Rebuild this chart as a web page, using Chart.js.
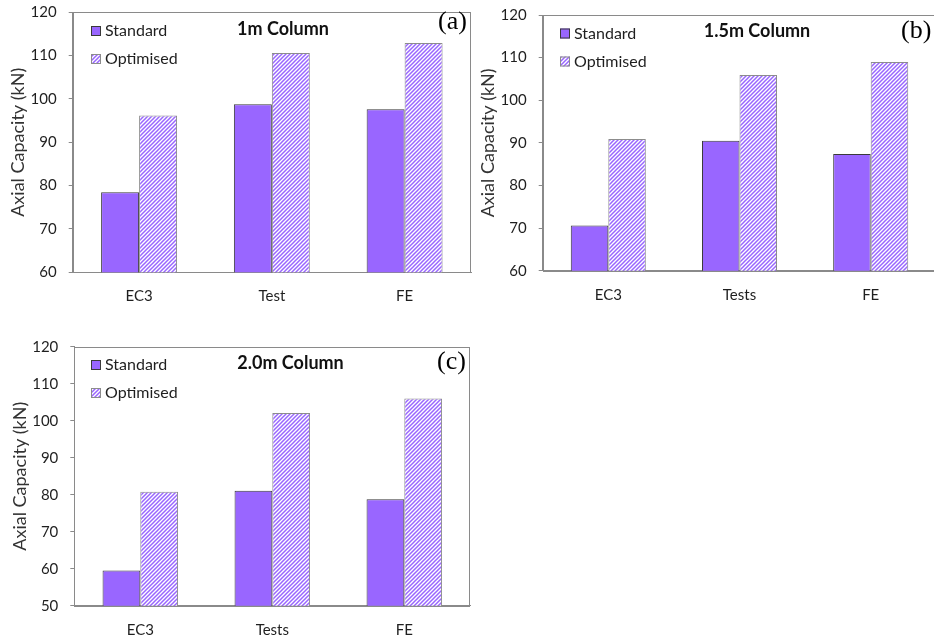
<!DOCTYPE html>
<html><head><meta charset="utf-8">
<script src="https://cdn.jsdelivr.net/npm/chart.js@4/dist/chart.umd.min.js"></script>
<style>
html,body{margin:0;padding:0;background:#fff;width:934px;height:639px;overflow:hidden;position:relative}
.p{position:absolute}
</style></head><body>
<div class="p" style="left:0;top:0"><canvas id="ca" width="480" height="318"></canvas></div>
<div class="p" style="left:470px;top:0"><canvas id="cb" width="470" height="318"></canvas></div>
<div class="p" style="left:0;top:320px"><canvas id="cc" width="480" height="319"></canvas></div>
<script>
// ---- data ----
const categoriesA = ['EC3', 'Test', 'FE'];
const categoriesB = ['EC3', 'Tests', 'FE'];
const categoriesC = ['EC3', 'Tests', 'FE'];
const seriesNames = ['Standard', 'Optimised'];
const standardA = [78.5, 98.8, 97.6];
const optimisedA = [96.2, 110.6, 112.9];
const standardB = [70.6, 90.5, 87.4];
const optimisedB = [90.9, 105.9, 109.0];
const standardC = [59.5, 81.1, 78.8];
const optimisedC = [80.8, 102.1, 106.0];
const yRangeA = [60, 120];
const yRangeB = [60, 120];
const yRangeC = [50, 120];
const yStep = 10;
const titles = ['1m Column', '1.5m Column', '2.0m Column'];
const tags = ['(a)', '(b)', '(c)'];
const yAxisTitle = 'Axial Capacity (kN)';

// ---- styles ----
const PURPLE = '#9966ff';
const FONT = 'Lato';
const TEXT = '#1f1f1f';
const AXIS = '#8a8a8a';

function makePattern() {
  const c = document.createElement('canvas');
  c.width = 4; c.height = 4;
  const g = c.getContext('2d');
  g.fillStyle = '#ffffff';
  g.fillRect(0, 0, 4, 4);
  g.strokeStyle = PURPLE;
  g.lineWidth = 1.5;
  g.beginPath();
  g.moveTo(-1, 5); g.lineTo(5, -1);
  g.moveTo(-3, 3); g.lineTo(3, -3);
  g.moveTo(1, 7); g.lineTo(7, 1);
  g.stroke();
  return g.createPattern(c, 'repeat');
}

const overlay = {
  id: 'overlay',
  beforeDatasetsDraw(chart, args, o) {
    const a = chart.chartArea, ctx = chart.ctx;
    ctx.save();
    ctx.strokeStyle = AXIS;
    ctx.lineWidth = 1;
    ctx.strokeRect(Math.round(a.left) + 0.5, Math.round(a.top) + 0.5,
      Math.round(a.right - a.left) - 1, Math.round(a.bottom - a.top));
    ctx.restore();
  },
  afterDraw(chart, args, o) {
    const ctx = chart.ctx;
    ctx.save();
    ctx.textBaseline = 'middle';
    // title
    ctx.font = 'bold 18px ' + FONT;
    ctx.fillStyle = '#111';
    ctx.textAlign = 'center';
    ctx.fillText(o.title, o.titleX, o.titleY);
    // tag
    ctx.font = '26px "Liberation Serif"';
    ctx.textAlign = 'left';
    ctx.fillStyle = '#000';
    ctx.fillText(o.tag, o.tagX, o.tagY);
    // legend
    ctx.font = '16px ' + FONT;
    chart.data.datasets.forEach((ds, i) => {
      const y = o.legY + i * 28;
      ctx.fillStyle = ds.backgroundColor;
      ctx.fillRect(o.legX, y - 5, 10, 10);
      ctx.strokeStyle = ds.borderColor;
      ctx.lineWidth = 1;
      ctx.strokeRect(o.legX + 0.5, y - 4.5, 9, 9);
      ctx.fillStyle = TEXT;
      ctx.textAlign = 'left';
      ctx.fillText(ds.label, o.legX + 14, y);
    });
    ctx.restore();
  }
};

function makeChart(id, cats, std, opt, yr, idx, g) {
  const canvas = document.getElementById(id);
  const W = canvas.width, H = canvas.height;
  return new Chart(canvas, {
    type: 'bar',
    data: {
      labels: cats,
      datasets: [
        { label: seriesNames[0], data: std, backgroundColor: PURPLE, borderColor: '#3a3a3a',
          borderWidth: 1, borderSkipped: 'bottom', categoryPercentage: 0.572, barPercentage: 1 },
        { label: seriesNames[1], data: opt, backgroundColor: makePattern(), borderColor: '#8c8c8c',
          borderWidth: 1, borderSkipped: 'bottom', categoryPercentage: 0.572, barPercentage: 1 }
      ]
    },
    options: {
      responsive: false,
      animation: false,
      events: [],
      layout: { padding: { left: 0, top: g.top, right: W - g.right, bottom: 0 } },
      plugins: {
        legend: { display: false },
        tooltip: { enabled: false },
        overlay: { title: titles[idx], tag: tags[idx], titleX: g.titleX, titleY: g.titleY,
          tagX: g.tagX, tagY: g.tagY, legX: g.legX, legY: g.legY }
      },
      scales: {
        x: {
          afterFit(s) { s.height = H - g.bottom; s.paddingLeft = 0; s.paddingRight = 0; },
          grid: { display: false },
          border: { display: true, color: AXIS },
          ticks: { color: TEXT, font: { family: FONT, size: 15 }, padding: g.xPad, maxRotation: 0 }
        },
        y: {
          min: yr[0], max: yr[1],
          afterFit(s) { s.width = g.left; s.paddingTop = 0; s.paddingBottom = 0; },
          grid: { drawOnChartArea: false, drawTicks: true, tickLength: 4, color: AXIS },
          border: { display: true, color: AXIS },
          ticks: { stepSize: yStep, color: TEXT, font: { family: FONT, size: 15 }, padding: 12 },
          title: { display: true, text: yAxisTitle, color: '#333', font: { family: FONT, size: 18 },
            padding: { top: g.yTitlePad, bottom: 0 } }
        }
      }
    },
    plugins: [overlay]
  });
}

makeChart('ca', categoriesA, standardA, optimisedA, yRangeA, 0,
  { left: 72.7, right: 471, top: 12.3, bottom: 272.3, titleX: 283, titleY: 29,
    tagX: 438, tagY: 22, legX: 91, legY: 31, xPad: 7, yTitlePad: 7.5 });
makeChart('cb', categoriesB, standardB, optimisedB, yRangeB, 1,
  { left: 72.7, right: 466.3, top: 15, bottom: 270.7, titleX: 287, titleY: 31.5,
    tagX: 431, tagY: 31, legX: 90, legY: 33.5, xPad: 7, yTitlePad: 7.5 });
makeChart('cc', categoriesC, standardC, optimisedC, yRangeC, 2,
  { left: 74.3, right: 470.3, top: 26.7, bottom: 285.7, titleX: 290.5, titleY: 43.5,
    tagX: 437, tagY: 42, legX: 91, legY: 45, xPad: 7, yTitlePad: 9 });
</script>
</body></html>
